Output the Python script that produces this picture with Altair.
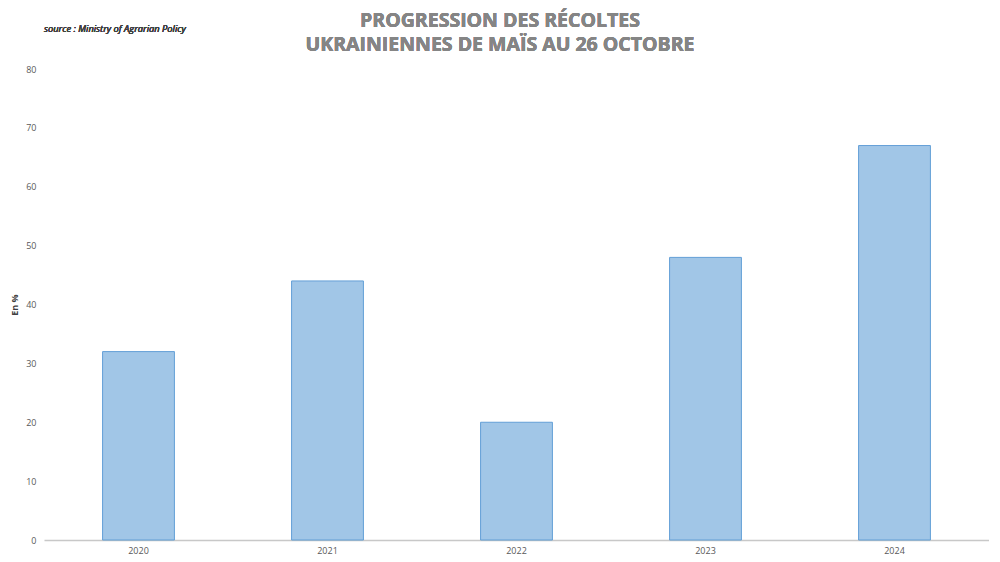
import altair as alt
import pandas as pd

years = ["2020", "2021", "2022", "2023", "2024"]
values = [32, 44, 20, 48, 67]
title_lines = ["PROGRESSION DES RÉCOLTES", "UKRAINIENNES DE MAÏS AU 26 OCTOBRE"]
source_text = "source : Ministry of Agrarian Policy"

df = pd.DataFrame({"year": years, "value": values})

FONT = "Open Sans"
GREY = "#595959"

bars = alt.Chart(df).mark_bar(
    color="#9DC3E6", stroke="#5B9BD5", strokeWidth=1, opacity=0.95
).encode(
    x=alt.X("year:N", sort=years,
            scale=alt.Scale(paddingInner=0.62, paddingOuter=0.31),
            axis=alt.Axis(title=None, labelAngle=0, ticks=False, domainColor="#C8C8C8",
                          domainWidth=1.5, labelColor=GREY, labelFontSize=9,
                          labelFont=FONT, labelPadding=6)),
    y=alt.Y("value:Q", scale=alt.Scale(domain=[0, 80], nice=False),
            axis=alt.Axis(title="En %", values=list(range(0, 81, 10)), grid=False,
                          ticks=False, domain=False, labelColor=GREY, labelFontSize=9,
                          labelFont=FONT, labelPadding=8, titleFont=FONT,
                          titleFontSize=9, titleFontWeight="bold", titleColor="#404040",
                          titlePadding=6)),
)

source = alt.Chart(df).mark_text(
    text=source_text, font=FONT, fontSize=9.3,
    fontStyle="italic", color="#404040", align="left", baseline="middle"
).encode(x=alt.value(0), y=alt.value(-40))

title1 = alt.Chart(df).mark_text(
    text=title_lines[0], font=FONT, fontSize=19.5, fontWeight="bold",
    color="#858585", align="center", baseline="middle"
).encode(x=alt.value(456), y=alt.value(-48.5))

title2 = alt.Chart(df).mark_text(
    text=title_lines[1], font=FONT, fontSize=19.5, fontWeight="bold",
    color="#858585", align="center", baseline="middle"
).encode(x=alt.value(456), y=alt.value(-24))

chart = alt.layer(bars, source, title1, title2).properties(
    width=945, height=471,
    padding={"left": 36, "top": 61, "right": 0, "bottom": 20},
    autosize=alt.AutoSizeParams(type="none"),
).configure_view(stroke=None)

chart.save("out.html", embed_options={"renderer": "svg", "actions": False})
